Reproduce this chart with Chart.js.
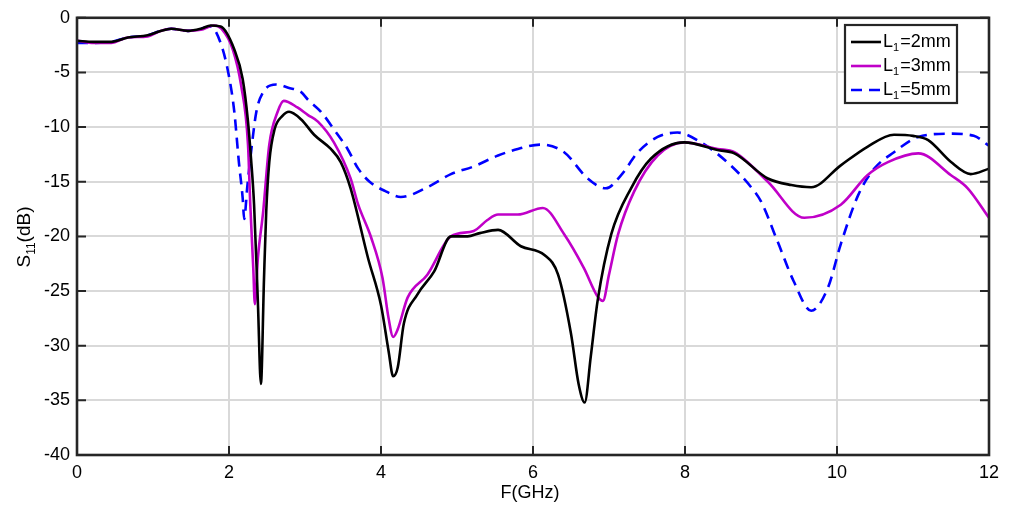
<!DOCTYPE html>
<html lang="en">
<head>
<meta charset="UTF-8">
<title>S11 vs frequency</title>
<script src="https://cdn.jsdelivr.net/npm/chart.js"></script>
<style>
  html, body { margin: 0; padding: 0; background: #fff; }
  #wrap { width: 1013px; height: 506px; }
</style>
</head>
<body>
<div id="wrap"><canvas id="s11Chart" width="1013" height="506"></canvas></div>
<script>
// frequency axis in GHz, S11 in dB
const xTicks = [0, 2, 4, 6, 8, 10, 12];
const yTicks = [0, -5, -10, -15, -20, -25, -30, -35, -40];

// L1 = 2mm
const freq2 = [0, 0.22, 0.45, 0.67, 0.93, 1.1, 1.24, 1.46, 1.63, 1.76, 1.89, 2.07, 2.18, 2.25, 2.29, 2.33, 2.38, 2.42, 2.46, 2.49, 2.53, 2.6, 2.7, 2.79, 2.95, 3.12, 3.34, 3.47, 3.6, 3.83, 4.0, 4.1, 4.16, 4.22, 4.3, 4.48, 4.7, 4.92, 5.14, 5.3, 5.54, 5.84, 6.15, 6.33, 6.5, 6.6, 6.68, 6.76, 6.85, 7.03, 7.29, 7.55, 7.99, 8.43, 8.65, 9.09, 9.4, 9.66, 10.05, 10.4, 10.75, 11.0, 11.2, 11.5, 11.76, 12];
const s11_2 = [-2.1, -2.2, -2.2, -1.8, -1.6, -1.2, -1.0, -1.2, -1.0, -0.7, -0.8, -2.9, -5.6, -9.5, -12.9, -17.1, -26, -33.5, -24, -17.7, -13.2, -10.2, -9.0, -8.6, -9.3, -10.7, -12.0, -13.2, -15.6, -22.0, -26.3, -30.5, -32.8, -32, -28, -25.3, -23.2, -20.0, -20.0, -19.7, -19.4, -20.9, -21.7, -23.5, -28.9, -33.5, -35.2, -31, -25.9, -19.8, -15.6, -12.9, -11.4, -12.1, -12.4, -14.7, -15.3, -15.5, -13.5, -11.8, -10.7, -10.8, -11.2, -13.2, -14.3, -13.8];

// L1 = 3mm
const freq3 = [0, 0.22, 0.45, 0.67, 0.93, 1.1, 1.24, 1.46, 1.63, 1.8, 1.9, 2.05, 2.16, 2.25, 2.28, 2.32, 2.34, 2.38, 2.45, 2.53, 2.64, 2.72, 2.9, 3.04, 3.17, 3.38, 3.6, 3.7, 3.87, 4.02, 4.1, 4.16, 4.22, 4.35, 4.61, 4.92, 5.22, 5.4, 5.54, 5.8, 6.13, 6.41, 6.67, 6.85, 6.92, 7.0, 7.12, 7.33, 7.64, 7.99, 8.43, 8.65, 9.09, 9.57, 10.05, 10.4, 10.67, 11.07, 11.5, 11.72, 12];
const s11_3 = [-2.1, -2.3, -2.3, -1.8, -1.7, -1.2, -1.0, -1.2, -1.1, -0.7, -1.0, -2.9, -6.2, -11.6, -17.1, -23, -26.2, -22, -17.7, -11.6, -8.6, -7.6, -8.2, -8.9, -9.5, -11.4, -14.7, -17.1, -20.1, -23.8, -27.5, -29.2, -28.5, -25.6, -23.5, -20.0, -19.5, -18.5, -18.0, -18.0, -17.4, -19.8, -22.9, -25.5, -25.9, -23.5, -19.8, -15.9, -12.6, -11.4, -12.0, -12.3, -15.0, -18.3, -17.1, -14.4, -13.2, -12.4, -14.4, -15.6, -18.3];

// L1 = 5mm
const freq5 = [0, 0.22, 0.45, 0.67, 0.93, 1.1, 1.24, 1.46, 1.63, 1.76, 1.89, 1.99, 2.07, 2.13, 2.18, 2.2, 2.24, 2.29, 2.36, 2.45, 2.62, 2.78, 2.95, 3.04, 3.21, 3.38, 3.56, 3.7, 3.85, 4.07, 4.26, 4.61, 4.92, 5.22, 5.54, 5.8, 6.1, 6.41, 6.72, 6.96, 7.16, 7.38, 7.64, 7.9, 8.21, 8.57, 8.87, 9.0, 9.22, 9.43, 9.66, 9.88, 10.05, 10.28, 10.49, 10.75, 11.07, 11.5, 11.8, 12];
const s11_5 = [-2.3, -2.3, -2.2, -1.8, -1.6, -1.2, -1.0, -1.2, -1.0, -0.8, -2.3, -5.0, -8.6, -13.2, -16.5, -18.4, -15.5, -12.3, -8.6, -6.8, -6.1, -6.4, -6.8, -7.5, -8.6, -10.2, -12.0, -13.8, -15.0, -15.9, -16.4, -15.5, -14.3, -13.6, -12.6, -12.0, -11.6, -12.3, -14.7, -15.6, -14.4, -12.3, -10.9, -10.5, -11.4, -13.3, -15.5, -16.8, -20.5, -24.1, -26.8, -24.7, -20.7, -16.2, -13.8, -12.3, -10.9, -10.6, -10.8, -11.7];

const seriesNames = ['2mm', '3mm', '5mm'];
const seriesColors = ['#000000', '#c000c8', '#0000ff'];
const seriesDash = [[], [], [11, 7]];

const FONT = '"Liberation Sans", Arial, Helvetica, sans-serif';
const INK = '#262626';
const FS = 18;

function pts(xs, ys) {
  return xs.map((x, i) => ({ x: x, y: ys[i] }));
}

// axes box, inward tick marks, legend and axis titles
const frame = {
  id: 'frame',
  afterDraw(chart) {
    const ctx = chart.ctx;
    const a = chart.chartArea;
    const sx = chart.scales.x, sy = chart.scales.y;
    ctx.save();

    // tick marks pointing inward on all four sides
    ctx.strokeStyle = INK;
    ctx.lineWidth = 2;
    const tl = 9;
    ctx.beginPath();
    xTicks.forEach(v => {
      const px = sx.getPixelForValue(v);
      ctx.moveTo(px, a.bottom); ctx.lineTo(px, a.bottom - tl);
      ctx.moveTo(px, a.top); ctx.lineTo(px, a.top + tl);
    });
    yTicks.forEach(v => {
      const py = sy.getPixelForValue(v);
      ctx.moveTo(a.left, py); ctx.lineTo(a.left + tl, py);
      ctx.moveTo(a.right, py); ctx.lineTo(a.right - tl, py);
    });
    ctx.stroke();

    // box
    ctx.lineWidth = 2.6;
    ctx.strokeRect(a.left, a.top, a.right - a.left, a.bottom - a.top);

    // legend
    const lx = 845, ly = 25, lw = 112, lh = 78;
    ctx.fillStyle = '#fff';
    ctx.fillRect(lx, ly, lw, lh);
    ctx.lineWidth = 2.2;
    ctx.strokeStyle = INK;
    ctx.strokeRect(lx, ly, lw, lh);
    const rows = [42, 66, 90];
    seriesNames.forEach((name, i) => {
      const ry = rows[i];
      ctx.strokeStyle = seriesColors[i];
      ctx.lineWidth = 2.6;
      ctx.setLineDash(seriesDash[i]);
      ctx.beginPath();
      ctx.moveTo(851, ry); ctx.lineTo(881, ry);
      ctx.stroke();
      ctx.setLineDash([]);
      ctx.fillStyle = '#000';
      ctx.textBaseline = 'middle';
      ctx.textAlign = 'left';
      ctx.font = FS + 'px ' + FONT;
      let tx = 883;
      ctx.fillText('L', tx, ry);
      tx += ctx.measureText('L').width;
      ctx.font = '11px ' + FONT;
      ctx.fillText('1', tx, ry + 6);
      tx += ctx.measureText('1').width + 1;
      ctx.font = FS + 'px ' + FONT;
      ctx.fillText('=' + name, tx, ry);
    });

    // x title
    ctx.fillStyle = '#000';
    ctx.font = FS + 'px ' + FONT;
    ctx.textAlign = 'center';
    ctx.textBaseline = 'middle';
    ctx.fillText('F(GHz)', (a.left + a.right) / 2 - 3, 493);

    // y title with subscript
    ctx.translate(25, 237);
    ctx.rotate(-Math.PI / 2);
    ctx.font = '19px ' + FONT;
    const wS = ctx.measureText('S').width;
    const wP = ctx.measureText('(dB)').width;
    ctx.font = '12px ' + FONT;
    const wSub = ctx.measureText('11').width;
    let tx = -(wS + wSub + wP) / 2;
    ctx.textAlign = 'left';
    ctx.font = '19px ' + FONT;
    ctx.fillText('S', tx, 0);
    tx += wS;
    ctx.font = '12px ' + FONT;
    ctx.fillText('11', tx, 7);
    tx += wSub;
    ctx.font = '19px ' + FONT;
    ctx.fillText('(dB)', tx, 0);

    ctx.restore();
  }
};

const datasets = [pts(freq2, s11_2), pts(freq3, s11_3), pts(freq5, s11_5)].map((d, i) => ({
  label: 'L1=' + seriesNames[i],
  data: d,
  borderColor: seriesColors[i],
  borderWidth: 2.6,
  borderDash: seriesDash[i],
  pointRadius: 0,
  fill: false,
  cubicInterpolationMode: 'monotone'
}));

new Chart(document.getElementById('s11Chart'), {
  type: 'line',
  data: { datasets: datasets },
  options: {
    responsive: false,
    animation: false,
    layout: { padding: { top: 15, right: 24, left: 0, bottom: 0 } },
    plugins: { legend: { display: false }, tooltip: { enabled: false } },
    scales: {
      x: {
        type: 'linear',
        min: 0, max: 12,
        afterFit(scale) { scale.height = 51; },
        afterBuildTicks(scale) { scale.ticks = xTicks.map(v => ({ value: v })); },
        ticks: { color: '#000', font: { size: FS, family: FONT }, padding: 7, maxRotation: 0 },
        grid: { color: '#d9d9d9', lineWidth: 2, drawTicks: false },
        border: { display: false }
      },
      y: {
        type: 'linear',
        min: -40, max: 0,
        afterFit(scale) { scale.width = 77; },
        afterBuildTicks(scale) { scale.ticks = yTicks.map(v => ({ value: v })); },
        ticks: { color: '#000', font: { size: FS, family: FONT }, padding: 7 },
        grid: { color: '#d9d9d9', lineWidth: 2, drawTicks: false },
        border: { display: false }
      }
    }
  },
  plugins: [frame]
});
</script>
</body>
</html>
